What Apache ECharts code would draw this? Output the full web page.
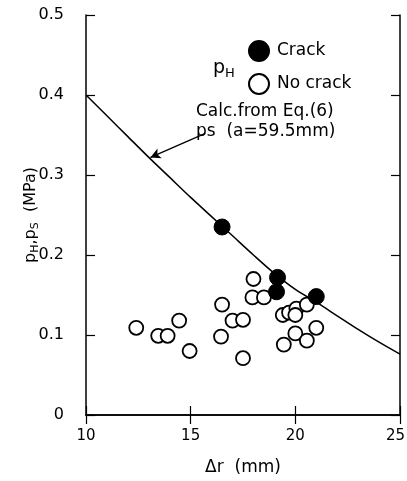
<!DOCTYPE html>
<html>
<head>
<meta charset="utf-8">
<script src="https://cdn.jsdelivr.net/npm/echarts@6/dist/echarts.min.js"></script>
<style>
html, body { margin: 0; padding: 0; background: #fff; }
#chart { width: 407px; height: 481px; }
</style>
</head>
<body>
<div id="chart"></div>
<script>
// Measured pressures: hydrogen p_H with and without cracking
const crackX = [16.5, 19.15, 19.1, 21.0];
const crackY = [0.235, 0.172, 0.154, 0.148];

const noCrackX = [12.4, 13.45, 13.9, 14.45, 14.95, 16.5, 16.45, 17.0, 17.5, 17.5, 18.0, 17.95, 18.5, 19.4, 19.7, 20.05, 20.0, 20.55, 21.0, 20.0, 19.45, 20.55];
const noCrackY = [0.109, 0.099, 0.099, 0.118, 0.080, 0.138, 0.098, 0.118, 0.119, 0.071, 0.170, 0.147, 0.147, 0.125, 0.128, 0.133, 0.125, 0.138, 0.109, 0.102, 0.088, 0.093];

// Calculated p_S curve, Eq.(6), a = 59.5 mm
const calcX = [10, 11, 12, 13, 14, 15, 16, 17, 18, 19, 20, 21, 22, 23, 24, 25];
const calcY = [0.400, 0.374, 0.348, 0.322, 0.297, 0.272, 0.248, 0.224, 0.200, 0.177, 0.157, 0.141, 0.124, 0.107, 0.091, 0.076];

// Axis ticks
const xTicks = [10, 15, 20, 25];
const yTicks = [0, 0.1, 0.2, 0.3, 0.4, 0.5];

// Arrow pointing from the annotation to the curve
const arrowFrom = [15.7, 0.352];
const arrowTo = [13.08, 0.322];

const FONT = 'DejaVu Sans, sans-serif';
const zip = (xs, ys) => xs.map((x, i) => [x, ys[i]]);
const xMax = xTicks[xTicks.length - 1];

const chart = echarts.init(document.getElementById('chart'), null, { renderer: 'canvas' });

const axisLine = { show: true, lineStyle: { color: '#000', width: 1.5 } };
const tickIn = { show: true, inside: true, length: 9, lineStyle: { color: '#000', width: 1.2 } };

chart.setOption({
  animation: false,
  backgroundColor: '#fff',
  grid: { left: 86, right: 7, top: 15, bottom: 66, outerBoundsMode: 'none', containLabel: false },
  xAxis: [{
    type: 'value', min: xTicks[0], max: xMax, interval: 5,
    axisLine: axisLine, axisTick: tickIn, splitLine: { show: false },
    axisLabel: {
      color: '#000', fontFamily: FONT, fontSize: 15, margin: 14,
      // keep the last label inside the canvas edge
      formatter: v => (v === xMax ? '{m|' + v + '}' : String(v)),
      rich: { m: { fontFamily: FONT, fontSize: 15, color: '#000', padding: [0, 9, 0, 0] } }
    },
    name: 'Δr  (mm)', nameLocation: 'middle', nameGap: 44, nameMoveOverlap: false,
    nameTextStyle: { color: '#000', fontFamily: FONT, fontSize: 17 }
  }, {
    type: 'value', position: 'top', min: xTicks[0], max: xMax, interval: 5,
    axisLine: axisLine, axisTick: tickIn, axisLabel: { show: false }, splitLine: { show: false }
  }],
  yAxis: [{
    type: 'value', min: yTicks[0], max: yTicks[yTicks.length - 1], interval: 0.1,
    axisLine: axisLine, axisTick: tickIn, splitLine: { show: false },
    axisLabel: {
      color: '#000', fontFamily: FONT, fontSize: 16, margin: 22,
      formatter: v => (v === 0 ? '0' : v.toFixed(1))
    },
    name: '{p|p}{s|H}{p|,p}{s|S}{p|  (MPa)}', nameLocation: 'middle', nameGap: 45, nameRotate: 90,
    nameMoveOverlap: false,
    nameTextStyle: {
      color: '#000', fontFamily: FONT, fontSize: 16,
      rich: {
        p: { fontFamily: FONT, fontSize: 16, color: '#000' },
        s: { fontFamily: FONT, fontSize: 11, color: '#000', verticalAlign: 'bottom', padding: [10, 0, 0, 0] }
      }
    }
  }, {
    type: 'value', position: 'right', min: yTicks[0], max: yTicks[yTicks.length - 1], interval: 0.1,
    axisLine: axisLine, axisTick: tickIn, axisLabel: { show: false }, splitLine: { show: false }
  }],
  legend: {
    orient: 'vertical', left: 243, top: 35, itemGap: 11,
    itemWidth: 20, itemHeight: 20, icon: 'circle',
    textStyle: { color: '#000', fontFamily: FONT, fontSize: 17, padding: [0, 0, 0, 3] },
    data: ['Crack', 'No crack']
  },
  series: [{
    name: 'calc', type: 'line', data: zip(calcX, calcY), smooth: 0.3,
    symbol: 'none', lineStyle: { color: '#000', width: 1.5 }, z: 2,
    markLine: {
      silent: true, symbol: ['none', 'arrow'], symbolSize: [8, 10],
      lineStyle: { color: '#000', width: 1.3, type: 'solid' }, label: { show: false },
      data: [[{ coord: arrowFrom }, { coord: arrowTo }]]
    }
  }, {
    name: 'No crack', type: 'scatter', data: zip(noCrackX, noCrackY),
    symbol: 'circle', symbolSize: 14,
    itemStyle: { color: '#fff', borderColor: '#000', borderWidth: 1.8, opacity: 1 }, z: 3
  }, {
    name: 'Crack', type: 'scatter', data: zip(crackX, crackY),
    symbol: 'circle', symbolSize: 16,
    itemStyle: { color: '#000', borderColor: '#000', borderWidth: 1, opacity: 1 }, z: 4
  }],
  graphic: [{
    type: 'text', left: 213, top: 59,
    style: {
      text: '{p|p}{s|H}', fill: '#000',
      rich: {
        p: { fontFamily: FONT, fontSize: 19, fill: '#000' },
        s: { fontFamily: FONT, fontSize: 13, fill: '#000', padding: [10, 0, 0, 0] }
      }
    }
  }, {
    type: 'text', left: 196, top: 103,
    style: { text: 'Calc.from Eq.(6)', fontFamily: FONT, fontSize: 17, fill: '#000' }
  }, {
    type: 'text', left: 196, top: 123,
    style: { text: 'ps  (a=59.5mm)', fontFamily: FONT, fontSize: 17, fill: '#000' }
  }]
});
</script>
</body>
</html>
